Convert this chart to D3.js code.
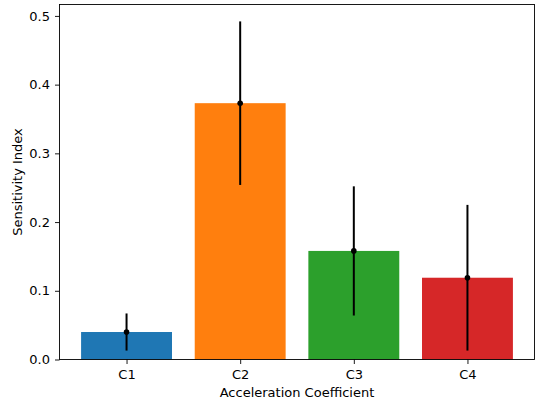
<!DOCTYPE html>
<html>
<head>
<meta charset="utf-8">
<script src="https://cdn.jsdelivr.net/npm/d3@7"></script>
<style>
  html, body { margin: 0; padding: 0; background: #fff; }
  svg { display: block; font-family: "DejaVu Sans", sans-serif; }
</style>
</head>
<body>
<svg id="chart" width="536" height="403"></svg>
<script>
// Sensitivity of each acceleration coefficient, with error bars
const categories = ["C1", "C2", "C3", "C4"];
const sensitivity = [0.040, 0.373, 0.158, 0.119];
const errors = [0.027, 0.119, 0.094, 0.106];
const colors = ["#1f77b4", "#ff7f0e", "#2ca02c", "#d62728"];
const yTicks = [0.0, 0.1, 0.2, 0.3, 0.4, 0.5];

const svg = d3.select("#chart");
const margin = { left: 59.5, right: 1.5, top: 4.5, bottom: 43.5 };
const W = 536, H = 403;
const x0 = margin.left, x1 = W - margin.right;
const y0 = H - margin.bottom, y1 = margin.top;

// Numeric x scale with 5% padding around bars of width 0.8
const barW = 0.8;
const xMin = -barW / 2, xMax = categories.length - 1 + barW / 2;
const xPad = (xMax - xMin) * 0.05;
const x = d3.scaleLinear().domain([xMin - xPad, xMax + xPad]).range([x0, x1]);

const yTop = d3.max(sensitivity.map((v, i) => v + errors[i])) * 1.05;
const y = d3.scaleLinear().domain([0, yTop]).range([y0, y1]);

// Bars
svg.append("g").selectAll("rect")
  .data(sensitivity)
  .join("rect")
  .attr("x", (d, i) => x(i - barW / 2))
  .attr("width", (d, i) => x(i + barW / 2) - x(i - barW / 2))
  .attr("y", d => y(d))
  .attr("height", d => y(0) - y(d))
  .attr("fill", (d, i) => colors[i]);

// Error bars with centre markers
const eb = svg.append("g");
eb.selectAll("line")
  .data(sensitivity)
  .join("line")
  .attr("x1", (d, i) => x(i)).attr("x2", (d, i) => x(i))
  .attr("y1", (d, i) => y(d - errors[i]))
  .attr("y2", (d, i) => y(d + errors[i]))
  .attr("stroke", "#000").attr("stroke-width", 2);
eb.selectAll("circle")
  .data(sensitivity)
  .join("circle")
  .attr("cx", (d, i) => x(i)).attr("cy", d => y(d))
  .attr("r", 2.8).attr("fill", "#000");

// Axes
const fs = "13px";
const xAxis = svg.append("g")
  .attr("transform", `translate(0,${y0})`)
  .call(d3.axisBottom(x).tickValues(categories.map((c, i) => i))
    .tickFormat(i => categories[i]).tickSize(4.5).tickPadding(5.5).tickSizeOuter(0));
const yAxis = svg.append("g")
  .attr("transform", `translate(${x0},0)`)
  .call(d3.axisLeft(y).tickValues(yTicks).tickFormat(d3.format(".1f"))
    .tickSize(4.5).tickPadding(5).tickSizeOuter(0));
[xAxis, yAxis].forEach(g => {
  g.select(".domain").remove();
  g.selectAll(".tick line").attr("stroke", "#000").attr("stroke-width", 0.9);
  g.selectAll(".tick text").attr("fill", "#000").style("font-size", fs)
    .style("font-family", "DejaVu Sans, sans-serif");
});

// Frame
svg.append("rect")
  .attr("x", x0).attr("y", y1)
  .attr("width", x1 - x0).attr("height", y0 - y1)
  .attr("fill", "none").attr("stroke", "#000").attr("stroke-width", 0.9);

// Axis labels
svg.append("text")
  .attr("x", (x0 + x1) / 2).attr("y", 397)
  .attr("text-anchor", "middle").style("font-size", fs)
  .text("Acceleration Coefficient");
svg.append("text")
  .attr("transform", `translate(21.5,${(y0 + y1) / 2}) rotate(-90)`)
  .attr("text-anchor", "middle").style("font-size", fs)
  .text("Sensitivity Index");
</script>
</body>
</html>
